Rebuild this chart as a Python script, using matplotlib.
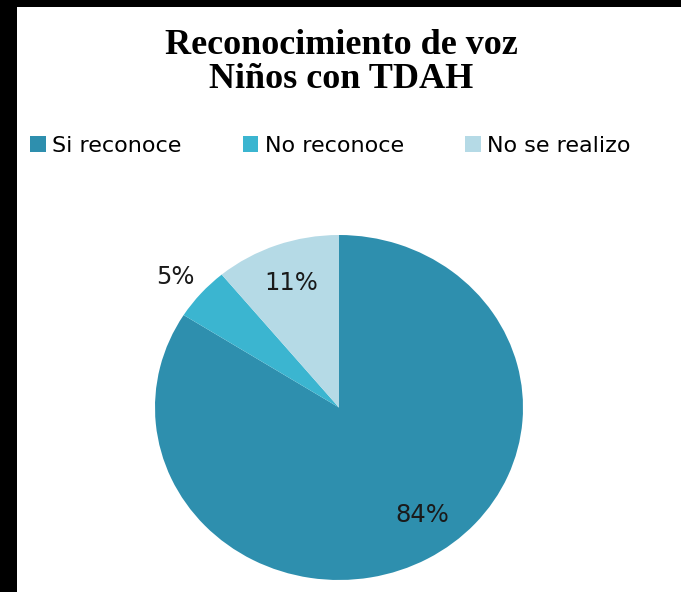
import matplotlib
matplotlib.use("Agg")
import matplotlib.pyplot as plt
import numpy as np
from matplotlib.patches import Rectangle

title_lines = ["Reconocimiento de voz", "Niños con TDAH"]
categories = ["Si reconoce", "No reconoce", "No se realizo"]
values = [84, 5, 11]
labels = ["84%", "5%", "11%"]
colors = ["#2E8FAE", "#3BB5D0", "#B5DAE6"]
label_radius = [0.77, 1.17, 0.77]
label_shift_deg = [7, 1, 0]   # counter-clockwise shift from the wedge middle

W, H = 681, 592
fig = plt.figure(figsize=(W / 100, H / 100), dpi=100)
fig.patch.set_facecolor("white")

# black borders (left and top)
fig.patches.append(Rectangle((0, 0), 17 / W, 1, transform=fig.transFigure,
                             facecolor="black", edgecolor="none", zorder=10))
fig.patches.append(Rectangle((0, 1 - 7 / H), 1, 7 / H, transform=fig.transFigure,
                             facecolor="black", edgecolor="none", zorder=10))

# pie axes (slightly elliptical as in the reference)
left, right, top, bottom = 155, 523, 235, 580
ax = fig.add_axes([left / W, 1 - bottom / H, (right - left) / W, (bottom - top) / H])
wedges, _ = ax.pie(values, colors=colors, startangle=90, counterclock=False,
                   radius=1.0, wedgeprops=dict(linewidth=0))
ax.set_aspect("auto")
ax.set_xlim(-1, 1)
ax.set_ylim(-1, 1)
ax.axis("off")

for w, lab, r, sh in zip(wedges, labels, label_radius, label_shift_deg):
    ang = np.deg2rad((w.theta1 + w.theta2) / 2 + sh)
    ax.text(r * np.cos(ang), r * np.sin(ang), lab, ha="center", va="center",
            fontsize=17.5, color="#1a1a1a", family="DejaVu Sans")

# title
fig.text(341 / W, 1 - 46 / H, title_lines[0], ha="center", va="center",
         fontsize=26, fontweight="bold", family="Liberation Serif")
fig.text(341 / W, 1 - 80 / H, title_lines[1], ha="center", va="center",
         fontsize=26, fontweight="bold", family="Liberation Serif")

# legend
handles = [Rectangle((0, 0), 1, 1, facecolor=c, edgecolor="none") for c in colors]
leg = fig.legend(handles, categories, loc="center left", ncol=3,
                 bbox_to_anchor=(30 / W, 1 - 146 / H), frameon=False,
                 borderaxespad=0, borderpad=0,
                 prop=dict(family="DejaVu Sans", size=16),
                 handlelength=0.7, handleheight=0.7, handletextpad=0.3,
                 columnspacing=2.75)

fig.savefig("out.png", dpi=100, facecolor="white")
